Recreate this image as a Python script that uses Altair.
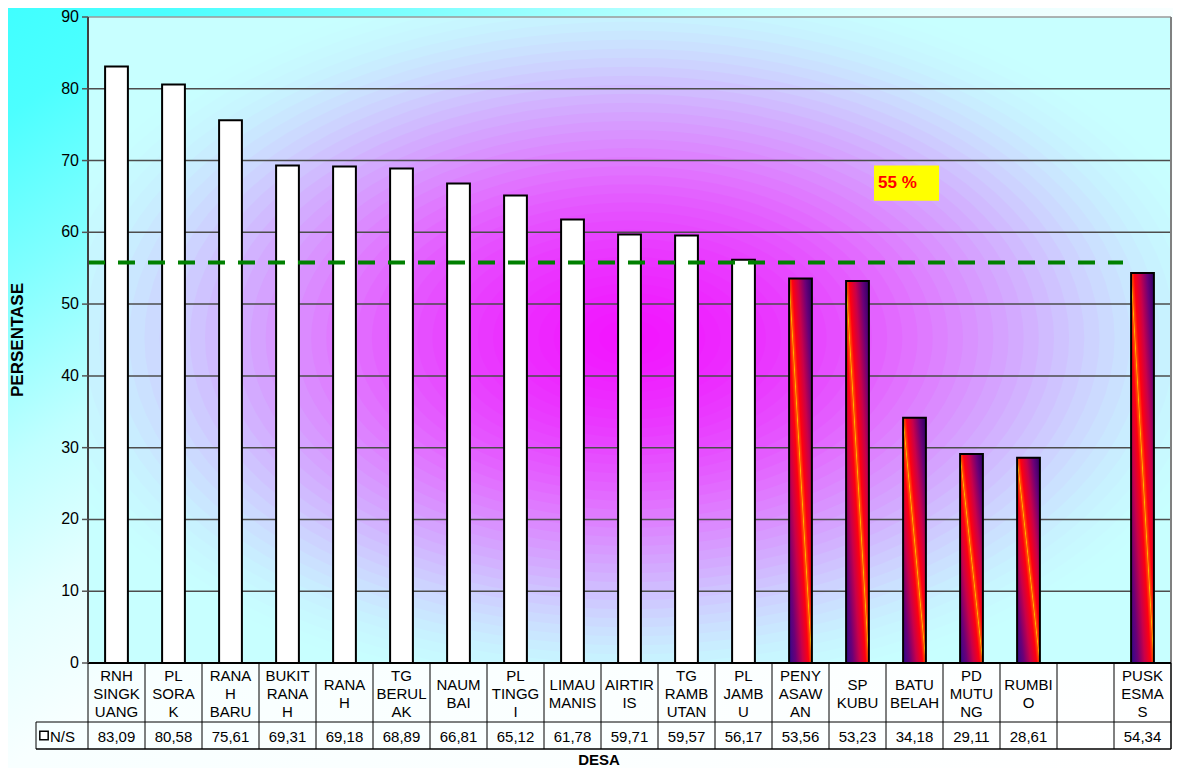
import altair as alt
import numpy as np
import pandas as pd

# ---------------- data ----------------
desa = ["RNH SINGKUANG", "PL SORAK", "RANAH BARU", "BUKIT RANAH", "RANAH",
        "TG BERULAK", "NAUMBAI", "PL TINGGI", "LIMAU MANIS", "AIRTIRIS",
        "TG RAMBUTAN", "PL JAMBU", "PENYASAWAN", "SP KUBU", "BATU BELAH",
        "PD MUTUNG", "RUMBIO", "-", "PUSKESMAS"]
label_tabel = ["RNH\nSINGK\nUANG", "PL\nSORA\nK", "RANA\nH\nBARU", "BUKIT\nRANA\nH",
               "RANA\nH", "TG\nBERUL\nAK", "NAUM\nBAI", "PL\nTINGG\nI", "LIMAU\nMANIS",
               "AIRTIR\nIS", "TG\nRAMB\nUTAN", "PL\nJAMB\nU", "PENY\nASAW\nAN", "SP\nKUBU",
               "BATU\nBELAH", "PD\nMUTU\nNG", "RUMBI\nO", "", "PUSK\nESMA\nS"]
persen = [83.09, 80.58, 75.61, 69.31, 69.18, 68.89, 66.81, 65.12, 61.78, 59.71,
          59.57, 56.17, 53.56, 53.23, 34.18, 29.11, 28.61, None, 54.34]
y_ticks = [0, 10, 20, 30, 40, 50, 60, 70, 80, 90]
target = 55.8
target_text = "55 %"
series_name = "N/S"
y_title = "PERSENTASE"
x_title_text = "DESA"

# ---------------- layout ----------------
W, H = 1083, 646
TOP = 9
FONT = "Liberation Sans"

df = pd.DataFrame({"desa": desa, "label": label_tabel, "persen": persen})
df["teks"] = ["" if v is None else f"{v:.2f}".replace(".", ",") for v in persen]
tick_df = pd.DataFrame({"t": y_ticks})
one = alt.Data(values=[{"a": 1}])

xs = alt.Scale(type="band", domain=desa, paddingInner=0, paddingOuter=0)
ys = alt.Scale(domain=[0, 90], nice=False, zero=True)


def ydat(v):
    return alt.YDatum(datum=v, scale=ys, axis=None)


# outer background (cyan corner fading to white)
outer_grad = alt.LinearGradient(
    gradient="linear", x1=0, y1=0, x2=1, y2=1,
    stops=[alt.GradientStop(color="#40FFFF", offset=0),
           alt.GradientStop(color="#4CFFFF", offset=0.07),
           alt.GradientStop(color="#80FFFF", offset=0.18),
           alt.GradientStop(color="#C0FFFF", offset=0.3),
           alt.GradientStop(color="#E4FFFF", offset=0.4),
           alt.GradientStop(color="#F8FFFF", offset=0.5),
           alt.GradientStop(color="#FFFFFF", offset=1)])
outer_bg = alt.Chart(one).mark_rect(fill=outer_grad, strokeWidth=0).encode(
    x=alt.value(-80), x2=alt.value(W + 2), y=alt.value(-TOP), y2=alt.value(H + 105))

plot_bg = alt.Chart(one).mark_rect(fill="#C8FFFF", strokeWidth=0).encode(
    x=alt.value(0), x2=alt.value(W), y=alt.value(0), y2=alt.value(H))

# magenta glow built from stacked translucent ellipses (smooth radial fade)
A = 0.56 * W
B = 0.56 * H
k = B / A
theta = np.linspace(0, 2 * np.pi, 97)[:-1]
ellipse = "M" + " L".join(f"{np.cos(t):.4f},{k * np.sin(t):.4f}" for t in theta) + " Z"
N = 40
T, P = 2.3, 1.85
glow = []
for j in range(1, N + 1):
    r = 1 - (j - 1) / N
    d = T * ((j / N) ** P - ((j - 1) / N) ** P)
    op = float(1 - np.exp(-d))
    a = A * r
    glow.append(alt.Chart(one).mark_point(
        shape=ellipse, filled=True, color="#FF00FF", opacity=op,
        size=float((2 * a) ** 2), strokeWidth=0, clip=True
    ).encode(x=alt.value(W / 2), y=alt.value(H / 2 - 2)))

grid = alt.Chart(tick_df).transform_filter("datum.t > 0").mark_rule(strokeWidth=1.5).encode(
    y=alt.Y("t:Q", scale=ys, axis=None),
    x=alt.value(0), x2=alt.value(W),
    color=alt.condition("datum.t == 90", alt.value("#9A9A9A"), alt.value("#4D4D4D")))

right_border = alt.Chart(one).mark_rule(color="#808080", strokeWidth=2).encode(
    x=alt.value(W), y=alt.value(0), y2=alt.value(H))

# y axis drawn by hand
y_domain = alt.Chart(one).mark_rule(color="#404040", strokeWidth=2).encode(
    x=alt.value(0), y=alt.value(0), y2=alt.value(H))
y_tickmarks = alt.Chart(tick_df).mark_rule(color="#555555", strokeWidth=1.5).encode(
    y=alt.Y("t:Q", scale=ys, axis=None), x=alt.value(-6), x2=alt.value(0))
y_labels = alt.Chart(tick_df).mark_text(
    font=FONT, fontSize=16, align="right", baseline="middle", color="#000000").encode(
    y=alt.Y("t:Q", scale=ys, axis=None), x=alt.value(-9), text="t:Q")
y_title_mark = alt.Chart(one).mark_text(
    text=y_title, font=FONT, fontSize=17, fontWeight="bold", angle=270,
    align="center", baseline="middle", color="#000000").encode(
    x=alt.value(-70), y=alt.value(H / 2))

bars_white = alt.Chart(df).transform_filter(f"datum.persen >= {target}").mark_bar(
    width=alt.RelativeBandSize(band=0.4), fill="#FFFFFF", stroke="#000000", strokeWidth=2
).encode(
    x=alt.X("desa:N", scale=xs, axis=None),
    y=alt.Y("persen:Q", scale=ys, axis=None))

bar_grad = alt.LinearGradient(
    gradient="linear", x1=0, y1=1, x2=1, y2=0,
    stops=[alt.GradientStop(color="#2A0A8C", offset=0),
           alt.GradientStop(color="#6A0078", offset=0.15),
           alt.GradientStop(color="#C8004A", offset=0.3),
           alt.GradientStop(color="#FF0010", offset=0.43),
           alt.GradientStop(color="#FF5000", offset=0.485),
           alt.GradientStop(color="#FFB400", offset=0.5),
           alt.GradientStop(color="#FF5000", offset=0.515),
           alt.GradientStop(color="#FF0010", offset=0.57),
           alt.GradientStop(color="#C8004A", offset=0.7),
           alt.GradientStop(color="#6A0078", offset=0.85),
           alt.GradientStop(color="#2A0066", offset=1)])
bars_grad = alt.Chart(df).transform_filter(f"datum.persen < {target}").mark_bar(
    width=alt.RelativeBandSize(band=0.4), fill=bar_grad, stroke="#000000", strokeWidth=2
).encode(
    x=alt.X("desa:N", scale=xs, axis=None),
    y=alt.Y("persen:Q", scale=ys, axis=None))

target_line = alt.Chart(one).mark_rule(color="#008000", strokeWidth=4, strokeDash=[17, 13]).encode(
    y=ydat(target), x=alt.value(0), x2=alt.value(1035))

note_box = alt.Chart(one).mark_rect(fill="#FFFF00", strokeWidth=0).encode(
    x=alt.value(786), x2=alt.value(851), y=ydat(69.3), y2=alt.Y2Datum(datum=64.4))
note_text = alt.Chart(one).mark_text(
    text=target_text, font=FONT, fontSize=17, fontWeight="bold", color="#FF0000",
    align="left", baseline="middle").encode(x=alt.value(790), y=ydat(66.85))

# x axis line
x_line = alt.Chart(one).mark_rule(color="#000000", strokeWidth=2).encode(
    x=alt.value(0), x2=alt.value(W), y=alt.value(H))

# data table
ROW1, ROW2, ROW3 = H, H + 59, H + 86
LEFT = -52
LH = 18
tbl_v = alt.Chart(df).mark_rule(color="#000000", strokeWidth=1).encode(
    x=alt.X("desa:N", scale=xs, axis=None, bandPosition=0),
    y=alt.value(ROW1), y2=alt.value(ROW3))
tbl_right = alt.Chart(one).mark_rule(color="#000000", strokeWidth=1.5).encode(
    x=alt.value(W), y=alt.value(ROW1), y2=alt.value(ROW3))
tbl_left = alt.Chart(one).mark_rule(color="#000000", strokeWidth=1).encode(
    x=alt.value(LEFT), y=alt.value(ROW2), y2=alt.value(ROW3))
tbl_h1 = alt.Chart(one).mark_rule(color="#000000", strokeWidth=1).encode(
    x=alt.value(LEFT), x2=alt.value(W), y=alt.value(ROW2))
tbl_h2 = alt.Chart(one).mark_rule(color="#000000", strokeWidth=1.5).encode(
    x=alt.value(LEFT), x2=alt.value(W), y=alt.value(ROW3))

cat_text = alt.Chart(df).transform_calculate(
    nl="length(split(datum.label, '\\n'))",
    ypix=f"{(ROW1 + ROW2) / 2 + 1} - (datum.nl - 1) * {LH / 2}"
).mark_text(
    font=FONT, fontSize=15, lineBreak="\n", lineHeight=LH, baseline="middle",
    align="center", color="#000000").encode(
    x=alt.X("desa:N", scale=xs, axis=None), y=alt.Y("ypix:Q", scale=None, axis=None),
    text="label:N")
val_text = alt.Chart(df).mark_text(
    font=FONT, fontSize=15, baseline="middle", align="center", color="#000000").encode(
    x=alt.X("desa:N", scale=xs, axis=None), y=alt.value((ROW2 + ROW3) / 2 + 1),
    text="teks:N")
legend_sq = alt.Chart(one).mark_square(
    size=70, fill="#FFFFFF", stroke="#000000", strokeWidth=1.5, opacity=1).encode(
    x=alt.value(-44), y=alt.value((ROW2 + ROW3) / 2))
legend_txt = alt.Chart(one).mark_text(
    text=series_name, font=FONT, fontSize=15, align="left", baseline="middle",
    color="#000000").encode(x=alt.value(-38), y=alt.value((ROW2 + ROW3) / 2 + 1))

x_title = alt.Chart(one).mark_text(
    text=x_title_text, font=FONT, fontSize=15, fontWeight="bold", color="#000000",
    align="center", baseline="middle").encode(x=alt.value(511), y=alt.value(ROW3 + 11))

chart = alt.layer(
    outer_bg, plot_bg, *glow, grid, right_border,
    bars_white, bars_grad, target_line, note_box, note_text, x_line,
    y_domain, y_tickmarks, y_labels, y_title_mark,
    tbl_v, tbl_right, tbl_left, tbl_h1, tbl_h2, cat_text, val_text,
    legend_sq, legend_txt, x_title
).properties(
    width=W, height=H,
    autosize=alt.AutoSizeParams(type="none"),
    padding={"left": 80, "top": TOP, "right": 2, "bottom": 105},
).configure_view(strokeWidth=0).configure(font=FONT)

chart.save("out.html", embed_options={"renderer": "svg", "actions": False})
